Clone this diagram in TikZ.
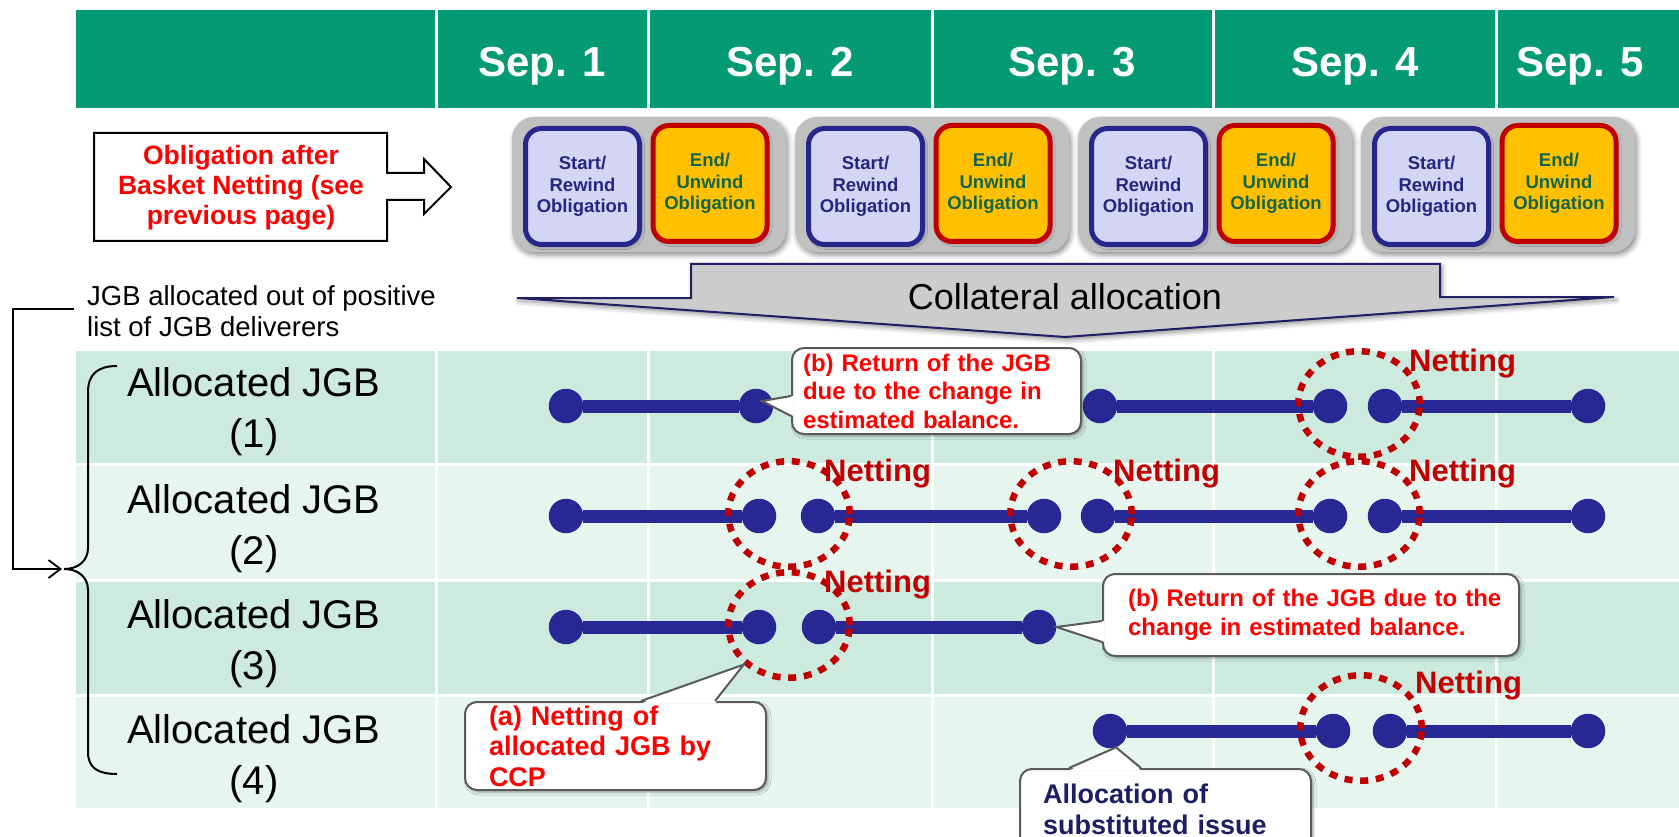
\documentclass[tikz,border=0pt]{standalone}
\usepackage{fontspec}
\setmainfont{Liberation Sans}
\usetikzlibrary{shapes.geometric, arrows.meta, shadows, shadows.blur, calc}

\definecolor{hdrgreen}{RGB}{4,154,115}
\definecolor{rowdark}{RGB}{204,235,222}
\definecolor{rowlight}{RGB}{230,245,238}
\definecolor{navydot}{RGB}{40,40,148}
\definecolor{nettred}{RGB}{192,0,0}
\definecolor{txtred}{RGB}{255,0,0}
\definecolor{startfill}{RGB}{212,212,244}
\definecolor{startborder}{RGB}{38,38,140}
\definecolor{starttext}{RGB}{38,38,130}
\definecolor{endfill}{RGB}{255,192,0}
\definecolor{endborder}{RGB}{192,0,0}
\definecolor{endtext}{RGB}{20,100,70}
\definecolor{groupgray}{RGB}{192,192,192}
\definecolor{arrowgray}{RGB}{204,204,204}
\definecolor{arrowborder}{RGB}{31,31,100}
\definecolor{callgray}{RGB}{90,90,90}
\definecolor{subnavy}{RGB}{30,30,100}

\begin{document}
\begin{tikzpicture}[x=1pt, y=-1pt,
  gridline/.style={white, line width=3pt},
  hdrlabel/.style={text=white, font=\fontsize{42}{50}\selectfont\bfseries, inner sep=0pt, anchor=base},
  rowlabel/.style={font=\fontsize{40}{51}\selectfont, align=center, inner sep=0pt},
  softshadow/.style={blur shadow={shadow xshift=2pt, shadow yshift=-3pt, shadow blur radius=5pt, shadow opacity=45}},
  obligbox/.style={line width=5pt, rounded corners=16pt, minimum width=114pt, minimum height=116pt,
    font=\fontsize{18.5}{21.5}\selectfont\bfseries, align=center, inner sep=0pt,
    blur shadow={shadow xshift=2pt, shadow yshift=-2pt, shadow blur radius=3pt, shadow opacity=35}},
  startbox/.style={obligbox, draw=startborder, fill=startfill, text=starttext},
  endbox/.style={obligbox, draw=endborder, fill=endfill, text=endtext},
  dot/.style={circle, fill=navydot, minimum size=34.5pt, inner sep=0pt},
  bar/.style={navydot, line width=13pt},
  netring/.style={ellipse, draw=nettred, line width=6.5pt, dash pattern=on 8pt off 7.7pt,
    minimum width=121.5pt, minimum height=105.5pt, inner sep=0pt},
  netlabel/.style={text=nettred, font=\fontsize{31}{36}\selectfont\bfseries, anchor=base west, inner sep=0pt},
  callout/.style={draw=callgray, line width=2pt, fill=white, rounded corners=12pt, align=left,
    anchor=north west, inner ysep=0pt,
    blur shadow={shadow xshift=2pt, shadow yshift=-2pt, shadow blur radius=3pt, shadow opacity=35}},
  calledge/.style={draw=callgray, line width=2pt, line join=miter},
  redtext/.style={text=txtred, font=\fontsize{24}{28.5}\selectfont\bfseries}
]
\useasboundingbox (0,0) rectangle (1679,837);
\clip (0,0) rectangle (1679,837);

% header band and row backgrounds
\fill[hdrgreen] (76,10) rectangle (1679,108);
\fill[rowdark] (76,351) rectangle (1679,464);
\fill[rowlight] (76,464) rectangle (1679,580);
\fill[rowdark] (76,580) rectangle (1679,695);
\fill[rowlight] (76,695) rectangle (1679,808);
\foreach \x in {436,648,932,1213,1496} {
  \draw[gridline] (\x,10) -- (\x,108);
  \draw[gridline] (\x,351) -- (\x,808);
}
\foreach \y in {464,580,695} \draw[gridline] (76,\y) -- (1679,\y);

% day headings
\node[hdrlabel] (sep1) at (542,77) {Sep. 1};
\node[hdrlabel] (sep2) at (790,77) {Sep. 2};
\node[hdrlabel] (sep3) at (1072,77) {Sep. 3};
\node[hdrlabel] (sep4) at (1355,77) {Sep. 4};
\node[hdrlabel] (sep5) at (1580,77) {Sep. 5};

% obligation note with right arrow
\filldraw[fill=white, draw=black, line width=2pt, line join=miter]
  (94,133) -- (387,133) -- (387,173) -- (424,173) -- (424,159) -- (451,187)
  -- (424,214) -- (424,200) -- (387,200) -- (387,241) -- (94,241) -- cycle;
\node[text=txtred, font=\fontsize{26.5}{30}\selectfont\bfseries, align=center, inner sep=0pt]
  (obl) at (241,188) {Obligation after\\Basket Netting (see\\previous page)};

% daily start / end obligation pairs
\foreach \i in {0,1,2,3} {
  \pgfmathsetmacro{\gx}{512+283*\i}
  \fill[groupgray, rounded corners=22pt, softshadow] (\gx,117) rectangle ++(274,135);
  \node[startbox] (start\i) at (\gx+70.5,186.5) {Start/\\Rewind\\Obligation};
  \node[endbox] (end\i) at (\gx+198,183.5) {End/\\Unwind\\Obligation};
}

% collateral allocation arrow
\filldraw[fill=arrowgray, draw=arrowborder, line width=2pt, line join=miter, softshadow]
  (691,264) -- (1440,264) -- (1440,297) -- (1614,297) -- (1065,337) -- (517,298) -- (691,298) -- cycle;
\node[anchor=base, font=\fontsize{36}{40}\selectfont, inner sep=0pt] (coll) at (1065,309) {Collateral allocation};

% deliverers note, bracket and brace
\node[anchor=west, inner sep=0pt, align=left, font=\fontsize{27.5}{31}\selectfont]
  (alloclist) at (87,311) {JGB allocated out of positive\\list of JGB deliverers};
\coordinate (brstart) at (74,309);
\coordinate (bracetip) at (62,569);
\draw[line width=1.8pt, -{Straight Barb[length=12pt,width=18pt]}] (brstart) -- (13,309) |- (bracetip);
\draw[line width=2pt]
  (117,366) .. controls (98,366) and (88,374) .. (88,392) -- (88,548)
  .. controls (88,561) and (78,569) .. (64,569)
  .. controls (78,569) and (88,577) .. (88,590) -- (88,752)
  .. controls (88,768) and (98,774) .. (117,774);

% row labels
\node[rowlabel] (lab1) at (254,412) {Allocated JGB\\(1)};
\node[rowlabel] (lab2) at (254,529) {Allocated JGB\\(2)};
\node[rowlabel] (lab3) at (254,644) {Allocated JGB\\(3)};
\node[rowlabel] (lab4) at (254,759) {Allocated JGB\\(4)};

% allocation periods
\foreach \n/\x in {a/566,b/756,c/1100,d/1330,e/1385,f/1588} \node[dot] (r1\n) at (\x,406) {};
\foreach \n/\x in {a/566,b/759,c/818,d/1044,e/1098,f/1330,g/1385,h/1588} \node[dot] (r2\n) at (\x,516) {};
\foreach \n/\x in {a/566,b/759,c/819,d/1039} \node[dot] (r3\n) at (\x,627) {};
\foreach \n/\x in {a/1110,b/1333,c/1390,d/1588} \node[dot] (r4\n) at (\x,731) {};
\draw[bar] (r1a) -- (r1b) (r1c) -- (r1d) (r1e) -- (r1f);
\draw[bar] (r2a) -- (r2b) (r2c) -- (r2d) (r2e) -- (r2f) (r2g) -- (r2h);
\draw[bar] (r3a) -- (r3b) (r3c) -- (r3d);
\draw[bar] (r4a) -- (r4b) (r4c) -- (r4d);

% netting rings
\node[netring] (ring1) at (1359,404) {};
\node[netring] (ring2a) at (789,514) {};
\node[netring] (ring2b) at (1071,514) {};
\node[netring] (ring2c) at (1359,514) {};
\node[netring] (ring3) at (789,625) {};
\node[netring] (ring4) at (1361,728) {};
\node[netlabel] (net1) at (1409,371) {Netting};
\node[netlabel] (net2a) at (824,481) {Netting};
\node[netlabel] (net2b) at (1113,481) {Netting};
\node[netlabel] (net2c) at (1409,481) {Netting};
\node[netlabel] (net3) at (824,592) {Netting};
\node[netlabel] (net4) at (1415,693) {Netting};

% callout: return in row 1
\node[callout, redtext, minimum width=289pt, minimum height=86pt, inner xsep=11pt, text width=267pt]
  (cA) at (791,347) {\mbox{(b) Return of the JGB}\\\mbox{due to the change in}\\\mbox{estimated balance.}};
\fill[white] ([shift={(2.5pt,-5pt)}]cA.west) -- ([shift={(6pt,5pt)}]r1b.center) -- ([shift={(2.5pt,-25pt)}]cA.west) -- cycle;
\draw[calledge] ([yshift=-5pt]cA.west) -- ([shift={(6pt,5pt)}]r1b.center) -- ([yshift=-25pt]cA.west);

% callout: return in row 3
\node[callout, redtext, minimum width=416pt, minimum height=82pt, inner xsep=25pt, text width=366pt]
  (cB) at (1102,573) {\mbox{(b) Return of the JGB due to the}\\\mbox{change in estimated balance.}};
\fill[white] ([shift={(2.5pt,-6pt)}]cB.west) -- (r3d.east) -- ([shift={(2.5pt,-27pt)}]cB.west) -- cycle;
\draw[calledge] ([yshift=-6pt]cB.west) -- (r3d.east) -- ([yshift=-27pt]cB.west);

% callout: netting by CCP
\node[callout, text=txtred, font=\fontsize{27}{30.5}\selectfont\bfseries,
  minimum width=301pt, minimum height=88pt, inner xsep=24pt, text width=253pt]
  (cC) at (464,701) {\mbox{(a) Netting of}\\\mbox{allocated JGB by}\\\mbox{CCP}};
\fill[white] ([shift={(25.5pt,-2.5pt)}]cC.north) -- (ring3.south west) -- ([shift={(99.5pt,-2.5pt)}]cC.north) -- cycle;
\draw[calledge] ([xshift=25.5pt]cC.north) -- (ring3.south west) -- ([xshift=99.5pt]cC.north);

% callout: substituted issue
\node[callout, text=subnavy, font=\fontsize{27}{31}\selectfont\bfseries,
  minimum width=291pt, minimum height=80pt, inner xsep=23pt, text width=245pt]
  (cD) at (1019,768) {\mbox{Allocation of}\\\mbox{substituted issue}};
\fill[white] ([shift={(-96.5pt,-2.5pt)}]cD.north) -- (r4a.-70) -- ([shift={(-24.5pt,-2.5pt)}]cD.north) -- cycle;
\draw[calledge] ([xshift=-96.5pt]cD.north) -- (r4a.-70) -- ([xshift=-24.5pt]cD.north);
\end{tikzpicture}
\end{document}
